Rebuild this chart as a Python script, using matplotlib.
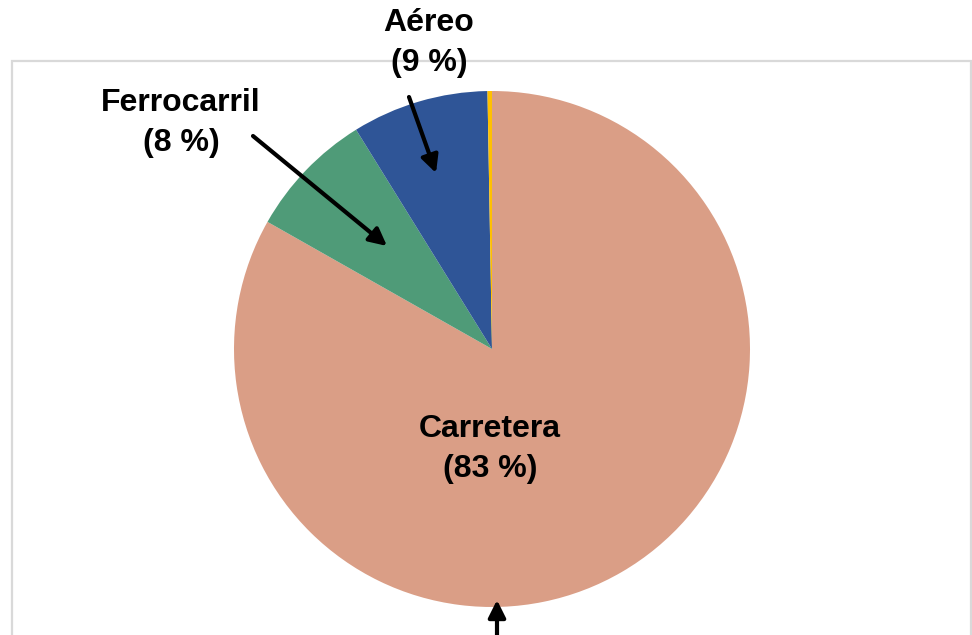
import matplotlib
matplotlib.use('Agg')
import matplotlib.pyplot as plt

# data
modos = ['Carretera', 'Ferrocarril', 'Aéreo', 'Otros']
valores = [83.2, 7.97, 8.55, 0.28]
etiquetas = ['Carretera\n(83 %)', 'Ferrocarril\n(8 %)', 'Aéreo\n(9 %)']
colores = ['#DA9E86', '#4F9B78', '#2F5597', '#FFC000']

plt.rcParams['font.family'] = ['Liberation Sans', 'DejaVu Sans']

W, H = 972, 635
fig = plt.figure(figsize=(W / 100, H / 100), dpi=100)
ax = fig.add_axes([0, 0, 1, 1])

# pie in pixel-like coords (y up)
cx, cy, r = 492, H - 349, 258
ax.pie(valores, colors=colores, startangle=90, counterclock=False,
       center=(cx, cy), radius=r, wedgeprops=dict(linewidth=0))
ax.set_xlim(0, W)
ax.set_ylim(0, H)
ax.set_aspect('equal')
ax.axis('off')

# chart area border (cut at the bottom)
gris = '#d9d9d9'
ax.plot([12, 12, 971, 971], [-10, H - 61, H - 61, -10], color=gris, lw=1.6,
        solid_joinstyle='miter', clip_on=False)

fs = 23
ls = 1.4
ax.text(490, H - 449, etiquetas[0], ha='center', va='center', fontsize=fs,
        fontweight='bold', linespacing=ls)
ax.text(181, H - 123, etiquetas[1], ha='center', va='center', fontsize=fs,
        fontweight='bold', linespacing=ls)
ax.text(429, H - 43, etiquetas[2], ha='center', va='center', fontsize=fs,
        fontweight='bold', linespacing=ls)

flecha = dict(arrowstyle='-|>', lw=3, color='black', mutation_scale=26,
              shrinkA=0, shrinkB=0)
ax.annotate('', xy=(387, H - 246), xytext=(253, H - 136), arrowprops=flecha)
ax.annotate('', xy=(436, H - 173), xytext=(409, H - 97), arrowprops=flecha)
ax.annotate('', xy=(497, H - 600), xytext=(497, -20), arrowprops=flecha,
            annotation_clip=False)

plt.savefig('out.png', dpi=100)
